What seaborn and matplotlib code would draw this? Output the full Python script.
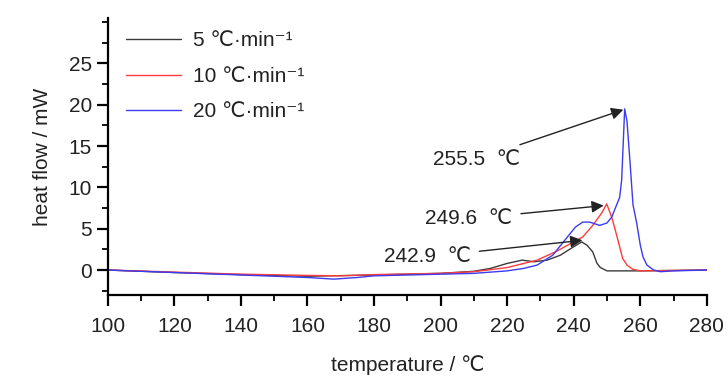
import numpy as np
import pandas as pd
import matplotlib
matplotlib.use("Agg")
import matplotlib.pyplot as plt
from matplotlib.ticker import MultipleLocator
import seaborn as sns

# ── data ────────────────────────────────────────────────────
rates = ["5 ℃·min⁻¹", "10 ℃·min⁻¹", "20 ℃·min⁻¹"]
colors = ["#3a3a3a", "#ff3b3b", "#3b3bf0"]

t_5 = [100, 120, 140, 160, 180, 200, 210, 215, 220, 224.5, 228, 232, 236,
       239.5, 242.4, 244, 245.7, 247, 248, 250, 260, 270, 280]
hf_5 = [0, -0.3, -0.55, -0.75, -0.6, -0.4, -0.15, 0.2, 0.8, 1.2, 1.0, 1.2, 1.8,
        2.7, 3.4, 3.0, 2.2, 0.8, 0.3, -0.1, -0.1, -0.05, 0]

t_10 = [100, 120, 140, 160, 170, 180, 200, 210, 220, 229, 235, 239, 242.7,
        245.7, 248.4, 249.9, 251.4, 252.5, 253.8, 254.7, 256, 257.7, 260, 270, 280]
hf_10 = [0, -0.25, -0.5, -0.65, -0.7, -0.55, -0.4, -0.2, 0.3, 1.2, 2.3, 3.2, 4.0,
         5.4, 6.9, 8.0, 6.4, 4.8, 2.8, 1.4, 0.6, 0.1, -0.1, -0.05, 0]

t_20 = [100, 120, 140, 160, 168, 175, 180, 200, 210, 220, 225, 229, 233.7,
        237.9, 240.5, 242.7, 244.8, 247.8, 250, 251.4, 253.8, 254.4, 255.3, 256,
        256.9, 257.8, 258.9, 260, 260.8, 262, 264, 266, 270, 280]
hf_20 = [0, -0.3, -0.6, -0.9, -1.1, -0.9, -0.7, -0.5, -0.4, -0.1, 0.2, 0.6, 1.8,
         3.9, 5.2, 5.8, 5.8, 5.4, 5.7, 6.4, 8.8, 10.9, 19.5, 18.0,
         13.1, 7.9, 5.7, 3.0, 1.6, 0.6, 0.0, -0.2, -0.1, 0]

# peak labels: text, text anchor (x, y), arrow tip (x, y)
peak_labels = ["255.5  ℃", "249.6  ℃", "242.9  ℃"]
label_xy = [(224.0, 13.4), (221.5, 6.2), (209.0, 1.6)]
tip_xy = [(254.9, 19.4), (249.0, 7.8), (242.6, 3.6)]

# ── build long-form table ───────────────────────────────────
df = pd.concat([
    pd.DataFrame({"T": t, "HF": h, "rate": r})
    for t, h, r in zip([t_5, t_10, t_20], [hf_5, hf_10, hf_20], rates)
], ignore_index=True)

sns.set_style("ticks")
plt.rcParams["font.family"] = ["Liberation Sans", "DejaVu Sans"]

fig = plt.figure(figsize=(7.28, 3.9), dpi=100)
ax = fig.add_axes([0.148, 0.244, 0.823, 0.71])

sns.lineplot(data=df, x="T", y="HF", hue="rate", palette=colors,
             linewidth=1.0, sort=False, ax=ax)

ax.set_xlim(100, 280)
ax.set_ylim(-3.0, 30.5)
ax.xaxis.set_major_locator(MultipleLocator(20))
ax.xaxis.set_minor_locator(MultipleLocator(10))
ax.set_yticks([0, 5, 10, 15, 20, 25])
ax.yaxis.set_minor_locator(MultipleLocator(2.5))

sns.despine(ax=ax)
for s in ["left", "bottom"]:
    ax.spines[s].set_linewidth(1.6)
    ax.spines[s].set_color("black")
ax.tick_params(which="major", length=8, width=1.6, labelsize=15, colors="black",
               labelcolor="#222222")
ax.tick_params(which="minor", length=4, width=1.3, colors="black")
ax.tick_params(axis="x", pad=8)

ax.set_xlabel("temperature / ℃", fontsize=15, color="#222222", labelpad=14)
ax.set_ylabel("heat flow / mW", fontsize=15, color="#222222", labelpad=12)

leg = ax.legend(loc="upper left", frameon=False, fontsize=15, handlelength=2.6,
                handletextpad=0.6, labelspacing=0.8,
                bbox_to_anchor=(0.0, 1.02))
for line in leg.get_lines():
    line.set_linewidth(1.0)
for t in leg.get_texts():
    t.set_color("#222222")

for txt, (lx, ly), (tx, ty) in zip(peak_labels, label_xy, tip_xy):
    ax.annotate(txt, xy=(tx, ty), xytext=(lx, ly), fontsize=15, color="#222222",
                ha="right", va="center",
                arrowprops=dict(arrowstyle="-|>", color="#222222", lw=1.0,
                                mutation_scale=18, shrinkA=4, shrinkB=0))

plt.savefig("out.png", dpi=100)
plt.close()
